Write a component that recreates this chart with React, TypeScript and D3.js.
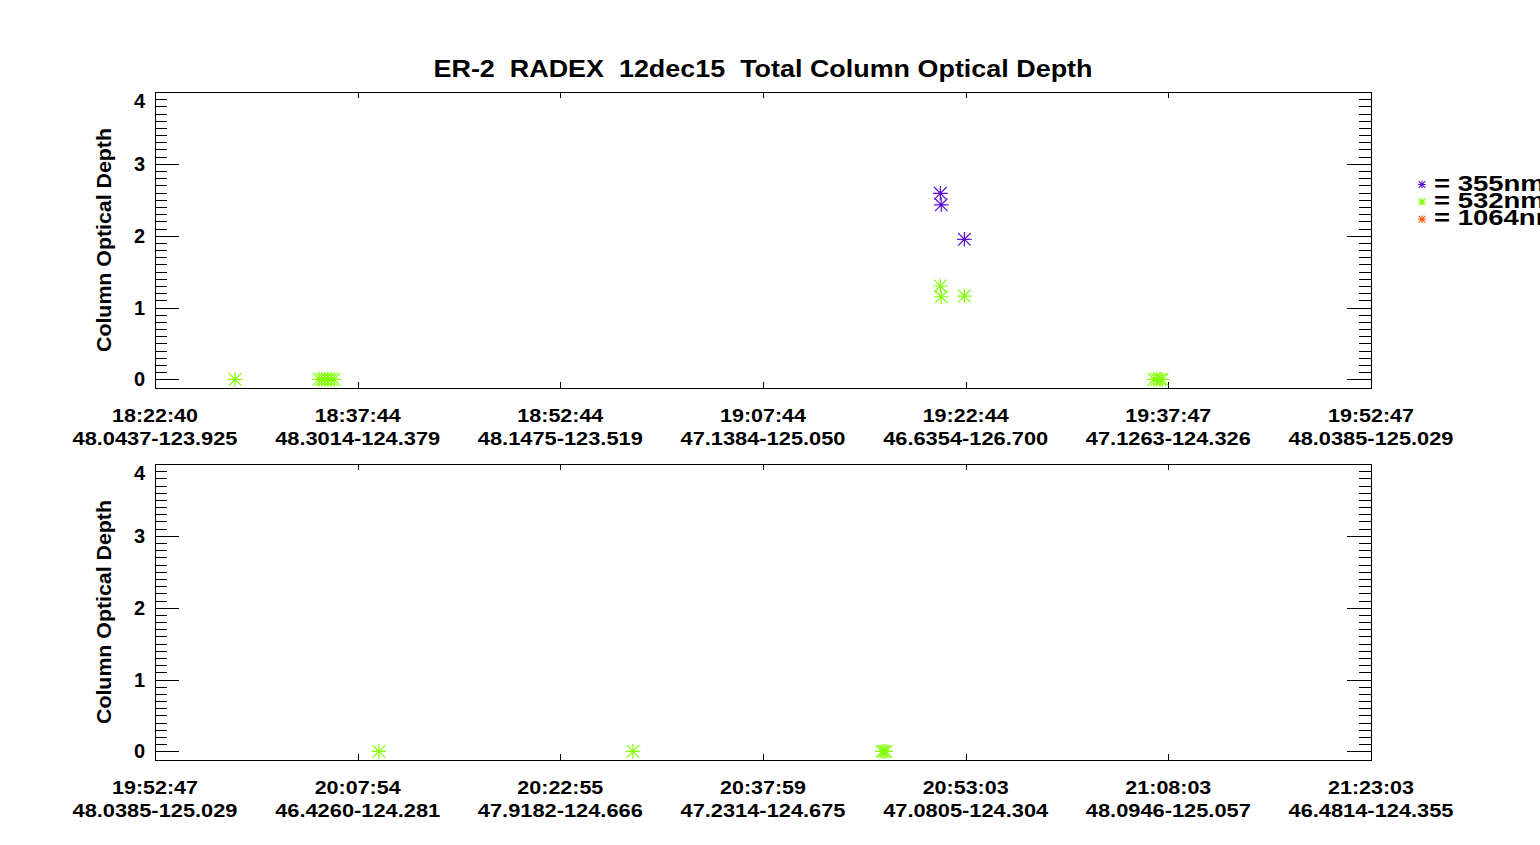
import { useEffect, useRef } from 'react';
import * as d3 from 'd3';

const WIDTH = 1540;
const HEIGHT = 845;
const FONT = '"Liberation Sans", Arial, Helvetica, sans-serif';

const TITLE = 'ER-2  RADEX  12dec15  Total Column Optical Depth';
const Y_LABEL = 'Column Optical Depth';

// x tick labels (time and lat-lon under each major tick)
const topTickTimes = ['18:22:40', '18:37:44', '18:52:44', '19:07:44', '19:22:44', '19:37:47', '19:52:47'];
const topTickPlaces = [
  '48.0437-123.925', '48.3014-124.379', '48.1475-123.519', '47.1384-125.050',
  '46.6354-126.700', '47.1263-124.326', '48.0385-125.029',
];
const bottomTickTimes = ['19:52:47', '20:07:54', '20:22:55', '20:37:59', '20:53:03', '21:08:03', '21:23:03'];
const bottomTickPlaces = [
  '48.0385-125.029', '46.4260-124.281', '47.9182-124.666', '47.2314-124.675',
  '47.0805-124.304', '48.0946-125.057', '46.4814-124.355',
];

const yTicks = [0, 1, 2, 3, 4];
const yMinor = d3.range(1, 40).filter((i) => i % 10 !== 0).map((i) => i / 10);

const legendLabels = ['355nm', '532nm', '1064nm'];
const legendColors = ['#5a10d4', '#80ff00', '#ff5a10'];

// top panel, 355nm
const top355Times = ['19:20:52', '19:20:56', '19:22:39'];
const top355Values = [2.59, 2.43, 1.95];

// top panel, 532nm
const top532Times = [
  '18:28:36',
  '18:34:49', '18:35:02', '18:35:16', '18:35:29', '18:35:43', '18:35:56',
  '19:20:52', '19:20:56', '19:22:39',
  '19:36:42', '19:36:55', '19:37:09', '19:37:18',
];
const top532Values = [0, 0, 0, 0, 0, 0, 0, 1.3, 1.15, 1.16, 0, 0, 0, 0];

// bottom panel, 532nm
const bottom532Times = ['20:09:24', '20:28:16', '20:46:45', '20:46:54', '20:47:03'];
const bottom532Values = [0, 0, 0, 0, 0];

const toSec = (t: string) => {
  const [h, m, s] = t.split(':').map(Number);
  return h * 3600 + m * 60 + s;
};

const starPath = (r: number, d: number) =>
  `M${-r},0H${r}M0,${-r}V${r}M${-d},${-d}L${d},${d}M${-d},${d}L${d},${-d}`;

interface Series {
  times: string[];
  values: number[];
  color: string;
}

interface PanelConfig {
  top: number;
  tickTimes: string[];
  tickPlaces: string[];
  series: Series[];
}

export default function App() {
  const svgRef = useRef<SVGSVGElement>(null);

  useEffect(() => {
    if (!svgRef.current) return;
    const svg = d3.select(svgRef.current);
    svg.selectAll('*').remove();

    svg.append('rect').attr('width', WIDTH).attr('height', HEIGHT).attr('fill', '#fff');

    const left = 155;
    const right = 1371;
    const panelH = 296;

    svg
      .append('text')
      .attr('x', (left + right) / 2)
      .attr('y', 77)
      .attr('text-anchor', 'middle')
      .attr('font-family', FONT)
      .attr('font-weight', 'bold')
      .attr('font-size', 24)
      .attr('textLength', 659)
      .attr('lengthAdjust', 'spacingAndGlyphs')
      .style('white-space', 'pre')
      .text(TITLE);

    const panels: PanelConfig[] = [
      {
        top: 92,
        tickTimes: topTickTimes,
        tickPlaces: topTickPlaces,
        series: [
          { times: top355Times, values: top355Values, color: legendColors[0] },
          { times: top532Times, values: top532Values, color: legendColors[1] },
        ],
      },
      {
        top: 464,
        tickTimes: bottomTickTimes,
        tickPlaces: bottomTickPlaces,
        series: [{ times: bottom532Times, values: bottom532Values, color: legendColors[1] }],
      },
    ];

    panels.forEach((p) => {
      const bottom = p.top + panelH;
      const t0 = toSec(p.tickTimes[0]);
      const t1 = toSec(p.tickTimes[p.tickTimes.length - 1]);
      const x = d3.scaleLinear().domain([t0, t1]).range([left, right]);
      const y = d3.scaleLinear().domain([-0.12, 4]).range([bottom, p.top]);
      const xTicks = p.tickTimes.map((_, i) => t0 + ((t1 - t0) * i) / (p.tickTimes.length - 1));

      const g = svg.append('g').attr('shape-rendering', 'crispEdges');

      const styleAxis = (sel: d3.Selection<SVGGElement, unknown, null, undefined>) => {
        sel.select('.domain').remove();
        sel.selectAll('line').attr('stroke', '#000').attr('stroke-width', 1);
        sel.selectAll('text').remove();
      };

      // y major + minor, left and right, pointing inward
      g.append('g').attr('transform', `translate(${left},0)`)
        .call(d3.axisLeft(y).tickValues(yTicks).tickSize(-24)).call(styleAxis);
      g.append('g').attr('transform', `translate(${left},0)`)
        .call(d3.axisLeft(y).tickValues(yMinor).tickSize(-12)).call(styleAxis);
      g.append('g').attr('transform', `translate(${right},0)`)
        .call(d3.axisRight(y).tickValues(yTicks).tickSize(-24)).call(styleAxis);
      g.append('g').attr('transform', `translate(${right},0)`)
        .call(d3.axisRight(y).tickValues(yMinor).tickSize(-12)).call(styleAxis);

      // x ticks bottom and top
      g.append('g').attr('transform', `translate(0,${bottom})`)
        .call(d3.axisBottom(x).tickValues(xTicks).tickSize(-6)).call(styleAxis);
      g.append('g').attr('transform', `translate(0,${p.top})`)
        .call(d3.axisTop(x).tickValues(xTicks).tickSize(-6)).call(styleAxis);

      // frame
      g.append('rect')
        .attr('x', left)
        .attr('y', p.top)
        .attr('width', right - left)
        .attr('height', panelH)
        .attr('fill', 'none')
        .attr('stroke', '#000')
        .attr('stroke-width', 1);

      // y tick labels
      svg.append('g')
        .selectAll('text')
        .data(yTicks)
        .join('text')
        .attr('x', left - 10)
        .attr('y', (d) => y(d) + (d === 4 ? 16 : 7))
        .attr('text-anchor', 'end')
        .attr('font-family', FONT)
        .attr('font-weight', 'bold')
        .attr('font-size', 20)
        .text((d) => d);

      // y axis title
      svg.append('text')
        .attr('transform', `translate(111,${(p.top + bottom) / 2}) rotate(-90)`)
        .attr('text-anchor', 'middle')
        .attr('font-family', FONT)
        .attr('font-weight', 'bold')
        .attr('font-size', 20)
        .attr('textLength', 224)
        .attr('lengthAdjust', 'spacingAndGlyphs')
        .text(Y_LABEL);

      // x tick labels: time, then lat-lon
      const xl = svg.append('g')
        .attr('font-family', FONT)
        .attr('font-weight', 'bold')
        .attr('font-size', 19)
        .attr('text-anchor', 'middle');
      xl.selectAll('text.time')
        .data(xTicks)
        .join('text')
        .attr('class', 'time')
        .attr('x', (d) => x(d))
        .attr('y', bottom + 34)
        .attr('textLength', 86)
        .attr('lengthAdjust', 'spacingAndGlyphs')
        .text((_, i) => p.tickTimes[i]);
      xl.selectAll('text.place')
        .data(xTicks)
        .join('text')
        .attr('class', 'place')
        .attr('x', (d) => x(d))
        .attr('y', bottom + 57)
        .attr('textLength', 165)
        .attr('lengthAdjust', 'spacingAndGlyphs')
        .text((_, i) => p.tickPlaces[i]);

      // data stars
      p.series.forEach((s) => {
        svg.append('g')
          .selectAll('path')
          .data(s.times.map((t, i) => ({ t: toSec(t), v: s.values[i] })))
          .join('path')
          .attr('transform', (d) => `translate(${x(d.t)},${y(d.v)})`)
          .attr('d', starPath(7.3, 6.3))
          .attr('fill', 'none')
          .attr('stroke', s.color)
          .attr('stroke-width', 1.2);
      });
    });

    // legend (IDL-style wide glyphs; lines overlap and run off the edge as in the original)
    const lg = svg.append('g');
    const legendY = d3.scaleLinear().domain([0, 1]).range([184.5, 201.8]);
    legendLabels.forEach((lab, i) => {
      lg.append('path')
        .attr('transform', `translate(1422,${legendY(i)})`)
        .attr('d', starPath(3.8, 3.3))
        .attr('fill', 'none')
        .attr('stroke', legendColors[i])
        .attr('stroke-width', 1.1);
      lg.append('text')
        .attr('transform', `translate(1434,${legendY(i) + 6}) scale(1.25,1)`)
        .attr('font-family', FONT)
        .attr('font-weight', 'bold')
        .attr('font-size', 22)
        .style('white-space', 'pre')
        .text(`= ${lab}`);
    });
  }, []);

  return (
    <svg
      ref={svgRef}
      width={WIDTH}
      height={HEIGHT}
      style={{ position: 'absolute', left: 0, top: 0, display: 'block' }}
    />
  );
}
